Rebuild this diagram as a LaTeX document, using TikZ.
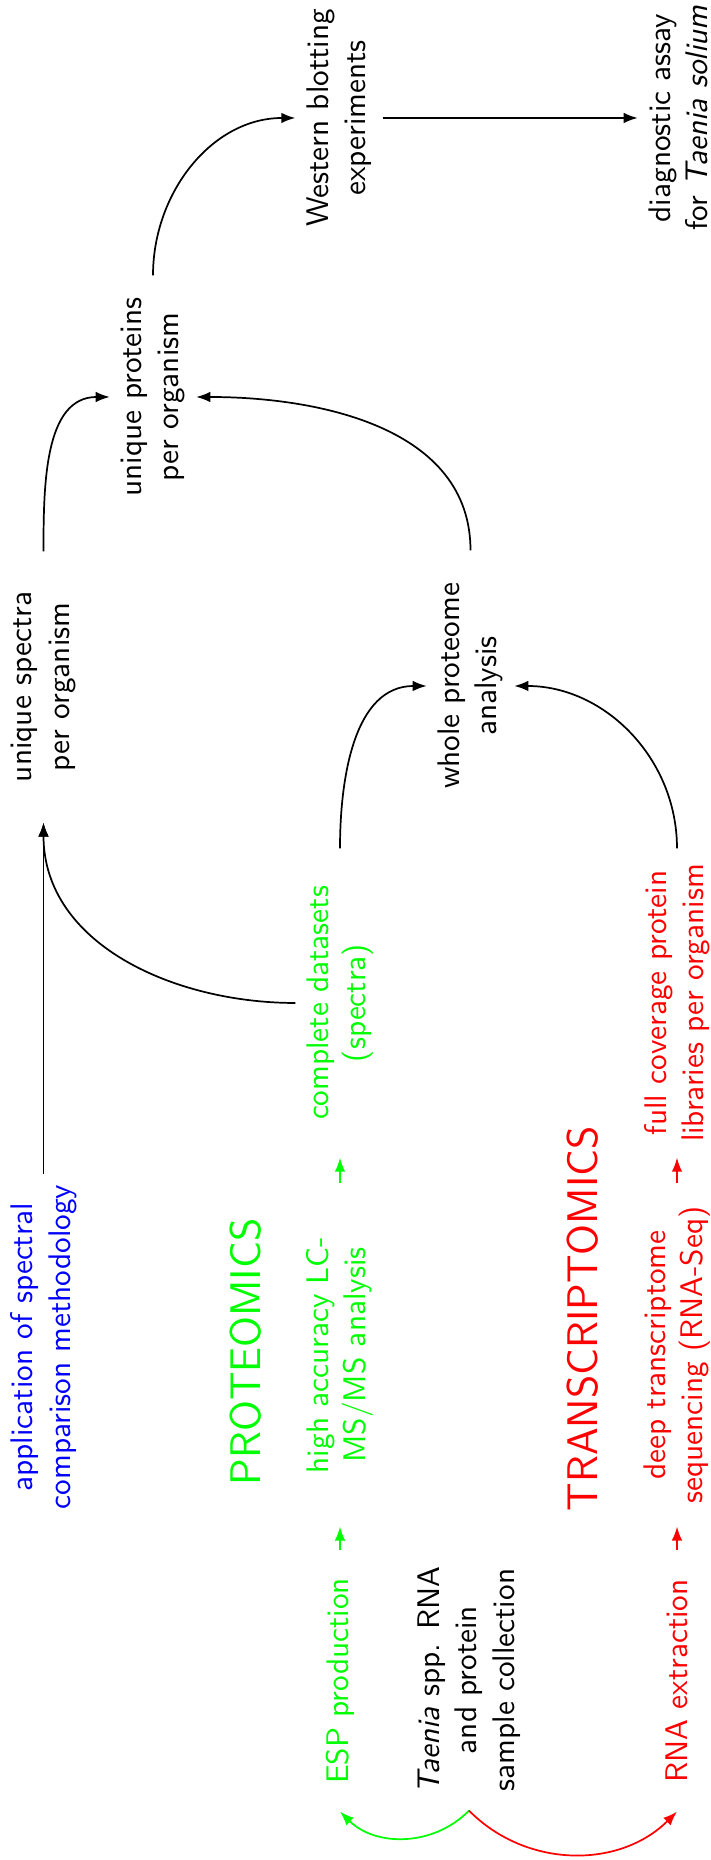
\documentclass[tikz,border=0pt]{standalone}
\usetikzlibrary{arrows.meta}
\begin{document}
\begin{tikzpicture}[x=0.32pt,y=0.32pt,
  lbl/.style={font=\sffamily, align=center, inner sep=3.33pt},
  big/.style={font=\sffamily\fontsize{13.7}{16}\selectfont, inner sep=0pt},
  arr/.style={-{Latex[length=4.5pt,width=3.4pt]}, line width=0.55pt},
  colA/.style={lbl, minimum width=83.2pt},
  colB/.style={lbl, minimum width=109.4pt},
  colC/.style={lbl, minimum width=98.6pt},
  colD/.style={lbl, minimum width=86.4pt},
  colE/.style={lbl, minimum width=77.4pt},
  colF/.style={lbl, minimum width=86.4pt}]
\useasboundingbox (0,0) rectangle (710,1860);
\begin{scope}[rotate=90, transform shape]
  % column A
  \node[colA, text=green] (esp) at (179,-340) {ESP production};
  \node[colA] (taenia) at (180,-469) {\textit{Taenia} spp. RNA\\and protein\\sample collection};
  \node[colA, text=red] (rna) at (179,-677) {RNA extraction};
  % column B
  \node[colB, text=blue] (app) at (513,-43.5) {application of spectral\\comparison methodology};
  \node[big, text=green] (prot) at (508,-246) {PROTEOMICS};
  \node[colB, text=green] (hac) at (505,-340) {high accuracy LC-\\MS/MS analysis};
  \node[big, text=red] (trans) at (541,-583) {TRANSCRIPTOMICS};
  \node[colB, text=red] (deep) at (505,-677) {deep transcriptome\\sequencing (RNA-Seq)};
  % column C
  \node[colC, text=green] (comp) at (857,-340) {complete datasets\\(spectra)};
  \node[colC, text=red] (full) at (857,-677) {full coverage protein\\libraries per organism};
  % column D
  \node[colD] (spec) at (1173,-43.5) {unique spectra\\per organism};
  \node[colD] (whole) at (1174,-470.5) {whole proteome\\analysis};
  % column E
  \node[colE] (prots) at (1463,-153) {unique proteins\\per organism};
  % column F
  \node[colF] (west) at (1742,-339) {Western blotting\\experiments};
  \node[colF] (diag) at (1742,-678.5) {diagnostic assay\\for \textit{Taenia solium}};

  % connectors
  \draw[arr, green] (taenia.west) to[bend left=45] (esp.west);
  \draw[arr, red] (taenia.west) to[bend right=45] (rna.west);
  \draw[arr, green] (esp) -- (hac);
  \draw[arr, green] (hac) -- (comp);
  \draw[arr, red] (rna) -- (deep);
  \draw[arr, red] (deep) -- (full);
  \draw[arr] (app) -- (spec);
  \draw[arr] (comp.north) to[out=90, in=180] (spec.west);
  \draw[arr] (comp.east) to[out=0, in=90] (whole.north);
  \draw[arr] (full.east) to[out=0, in=-90] (whole.south);
  \draw[arr] (spec.east) to[out=0, in=90] (prots.north);
  \draw[arr] (whole.east) to[out=0, in=-90] (prots.south);
  \draw[arr] (prots.east) to[out=0, in=90] (west.north);
  \draw[arr] (west.south) -- (diag.north);
\end{scope}
\end{tikzpicture}
\end{document}
